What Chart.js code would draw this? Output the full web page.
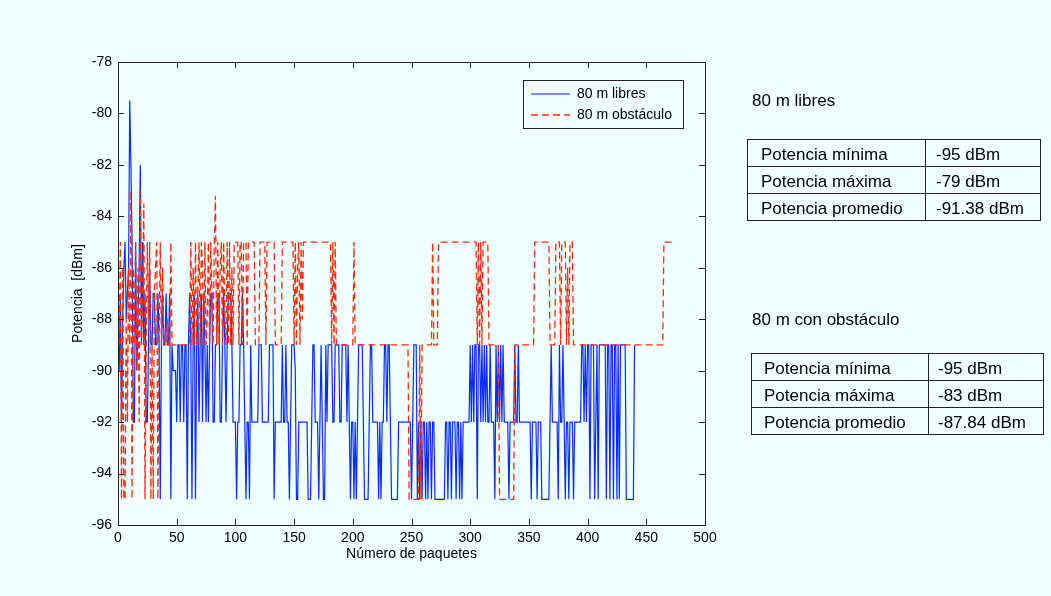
<!DOCTYPE html>
<html>
<head>
<meta charset="utf-8">
<title>Potencia recibida a 80 m</title>
<script src="https://cdn.jsdelivr.net/npm/chart.js@4.4.0/dist/chart.umd.min.js"></script>
<style>
  body { margin: 0; background: #f0ffff; }
  #lienzo { position: absolute; left: 0; top: 0; }
  .rotulo { position: absolute; font: 17px 'Liberation Sans', Arial, sans-serif; color: #000; white-space: nowrap; }
  table.resumen { position: absolute; border-collapse: collapse; font: 17px 'Liberation Sans', Arial, sans-serif; color: #000; }
  table.resumen td { border: 1px solid #222; height: 22px; line-height: 22px; padding: 4px 0 0 0; white-space: nowrap; }
</style>
</head>
<body>
<canvas id="lienzo" width="1051" height="596"></canvas>

<div class="rotulo" style="left:752px; top:91px;">80 m libres</div>
<table class="resumen" style="left:747px; top:139px;">
  <tr><td style="width:164px; padding-left:13px;">Potencia mínima</td><td style="width:104px; padding-left:10px;">-95 dBm</td></tr>
  <tr><td style="padding-left:13px;">Potencia máxima</td><td style="padding-left:10px;">-79 dBm</td></tr>
  <tr><td style="padding-left:13px;">Potencia promedio</td><td style="padding-left:10px;">-91.38 dBm</td></tr>
</table>

<div class="rotulo" style="left:752px; top:310px;">80 m con obstáculo</div>
<table class="resumen" style="left:751px; top:353px;">
  <tr><td style="width:164px; padding-left:12px;">Potencia mínima</td><td style="width:105px; padding-left:9px;">-95 dBm</td></tr>
  <tr><td style="padding-left:12px;">Potencia máxima</td><td style="padding-left:9px;">-83 dBm</td></tr>
  <tr><td style="padding-left:12px;">Potencia promedio</td><td style="padding-left:9px;">-87.84 dBm</td></tr>
</table>

<script>
// potencia por paquete (dBm), medición a 80 m sin obstáculos
const potenciaLibres = [
  -90,-87,-92,-88,-86,-85,-88,-87,-86,-79.5,-82,-85,-92,-92,-85,-90,-88,-86,-82,-89,
  -85,-89,-87,-92,-92,-89,-86,-89,-89,-87,-87,-89,-89,-87,-89,-95,-89,-87,-89,-89,
  -87,-89,-89,-87,-95,-89,-90,-90,-90,-92,-89,-89,-92,-89,-89,-92,-89,-89,-95,-89,
  -87,-89,-95,-89,-87,-95,-89,-87,-92,-89,-87,-92,-87,-89,-92,-89,-92,-89,-87,-87,
  -92,-92,-89,-89,-87,-87,-92,-92,-89,-87,-89,-92,-89,-87,-87,-87,-89,-92,-92,-92,
  -95,-92,-92,-89,-89,-87,-89,-92,-95,-92,-92,-95,-89,-92,-92,-92,-92,-92,-92,-89,
  -89,-89,-92,-92,-92,-92,-92,-92,-89,-89,-89,-89,-95,-92,-92,-92,-92,-92,-92,-89,
  -92,-92,-89,-92,-92,-95,-92,-89,-89,-89,-90,-95,-95,-92,-92,-92,-92,-92,-92,-92,
  -92,-95,-95,-95,-92,-89,-89,-92,-92,-92,-95,-92,-89,-92,-95,-95,-89,-92,-89,-89,
  -89,-89,-92,-92,-89,-89,-89,-89,-92,-92,-89,-89,-89,-89,-92,-89,-92,-95,-92,-92,
  -95,-92,-95,-92,-89,-89,-89,-89,-92,-95,-95,-95,-95,-92,-89,-89,-92,-92,-92,-92,
  -92,-95,-92,-95,-92,-92,-89,-89,-92,-89,-89,-92,-95,-95,-95,-95,-95,-95,-92,-92,
  -92,-92,-92,-92,-92,-92,-92,-92,-92,-95,-92,-89,-89,-89,-95,-92,-95,-92,-95,-92,
  -92,-95,-92,-95,-92,-92,-95,-92,-92,-95,-95,-95,-95,-95,-95,-95,-95,-95,-92,-92,
  -95,-92,-92,-95,-92,-92,-92,-95,-92,-92,-95,-92,-95,-92,-92,-92,-92,-92,-92,-89,
  -92,-89,-92,-89,-89,-95,-89,-89,-92,-89,-92,-89,-92,-89,-92,-92,-89,-92,-92,-92,
  -95,-89,-92,-89,-92,-89,-92,-89,-92,-92,-92,-92,-95,-92,-92,-92,-92,-89,-92,-92,
  -89,-92,-92,-92,-92,-92,-92,-92,-92,-92,-92,-95,-92,-92,-92,-92,-95,-92,-92,-92,
  -95,-95,-95,-95,-95,-95,-95,-92,-89,-92,-92,-92,-92,-92,-95,-89,-92,-92,-89,-92,
  -95,-92,-92,-95,-92,-92,-92,-95,-92,-92,-92,-92,-92,-92,-89,-89,-92,-89,-92,-89,
  -89,-95,-89,-89,-89,-95,-92,-89,-95,-89,-89,-89,-89,-89,-89,-95,-89,-89,-95,-89,
  -89,-95,-89,-89,-95,-89,-95,-89,-89,-89,-89,-89,-95,-95,-95,-95,-95,-95,-95,-89
];

// potencia por paquete (dBm), medición a 80 m con obstáculo
const potenciaObstaculo = [
  -89,-85,-95,-86,-95,-95,-88,-92,-86,-89,-83,-95,-86,-89,-85,-90,-86,-92,-83,-89,
  -87,-83.5,-95,-89,-85,-88,-85,-95,-89,-95,-87,-86,-85,-95,-89,-85,-89,-86,-89,-89,
  -89,-88,-89,-89,-85,-89,-89,-89,-89,-89,-89,-89,-89,-89,-89,-89,-89,-89,-89,-89,
  -89,-85,-89,-86,-89,-85,-89,-87,-85,-89,-85,-86,-89,-85,-89,-88,-85,-89,-85,-87,
  -89,-85,-83.2,-89,-85,-89,-86,-85,-89,-85,-88,-89,-85,-89,-85,-89,-86,-89,-85,-85,
  -85,-85,-89,-85,-85,-89,-85,-85,-85,-89,-85,-85,-85,-85,-85,-85,-89,-89,-89,-89,
  -85,-85,-85,-85,-85,-89,-85,-85,-85,-85,-85,-85,-85,-89,-89,-89,-89,-89,-89,-85,
  -85,-85,-85,-85,-85,-85,-85,-85,-85,-89,-85,-89,-86,-85,-89,-85,-88,-85,-85,-85,
  -85,-85,-85,-85,-85,-85,-85,-85,-85,-85,-85,-85,-85,-85,-85,-85,-85,-85,-85,-85,
  -85,-89,-85,-89,-85,-89,-89,-89,-89,-89,-89,-89,-89,-89,-89,-89,-89,-89,-89,-89,
  -85,-89,-89,-89,-89,-89,-89,-89,-89,-89,-89,-89,-89,-89,-89,-89,-89,-89,-89,-89,
  -89,-89,-89,-89,-89,-89,-89,-89,-89,-89,-89,-89,-89,-89,-89,-89,-89,-89,-89,-89,
  -89,-89,-89,-89,-89,-89,-89,-95,-95,-95,-95,-95,-95,-95,-95,-95,-89,-95,-89,-89,
  -89,-89,-89,-89,-89,-89,-89,-85,-89,-89,-89,-89,-85,-85,-85,-85,-85,-85,-85,-85,
  -85,-85,-85,-85,-85,-85,-85,-85,-85,-85,-85,-85,-85,-85,-85,-85,-85,-85,-85,-85,
  -85,-85,-85,-85,-85,-89,-85,-89,-85,-89,-85,-85,-85,-85,-85,-89,-89,-89,-89,-89,
  -89,-89,-89,-89,-95,-95,-95,-95,-95,-95,-95,-95,-95,-95,-95,-95,-95,-89,-89,-89,
  -89,-89,-89,-89,-89,-89,-89,-89,-89,-89,-89,-89,-89,-89,-85,-85,-85,-85,-85,-85,
  -85,-85,-85,-85,-85,-85,-85,-89,-89,-89,-89,-89,-85,-85,-85,-85,-89,-85,-85,-85,
  -85,-89,-86,-89,-85,-85,-85,-89,-89,-89,-89,-89,-89,-89,-89,-89,-89,-89,-89,-89,
  -89,-89,-89,-89,-89,-89,-89,-89,-89,-89,-89,-89,-89,-89,-89,-89,-89,-89,-89,-89,
  -89,-89,-89,-89,-89,-89,-89,-89,-89,-89,-89,-89,-89,-89,-89,-89,-89,-89,-89,-89,
  -89,-89,-89,-89,-89,-89,-89,-89,-89,-89,-89,-89,-89,-89,-89,-89,-89,-89,-89,-89,
  -89,-89,-89,-89,-85,-85,-85,-85,-85,-85,-85,-85,-85
];

const ticksPaquetes = [0, 50, 100, 150, 200, 250, 300, 350, 400, 450, 500];
const ticksPotencia = [-96, -94, -92, -90, -88, -86, -84, -82, -80, -78];

const fuente = { family: "'Liberation Sans', Arial, sans-serif", size: 14 };
const aPuntos = serie => serie.map((v, i) => ({ x: i + 1, y: v }));

// marco cerrado con marcas hacia dentro en los cuatro lados
const marco = {
  id: 'marco',
  afterDatasetsDraw(chart) {
    const { ctx, chartArea: a, scales: { x, y } } = chart;
    const largo = 6;
    ctx.save();
    ctx.strokeStyle = '#222';
    ctx.lineWidth = 1;
    ctx.beginPath();
    ticksPaquetes.forEach(v => {
      const px = Math.round(x.getPixelForValue(v)) + 0.5;
      ctx.moveTo(px, a.bottom); ctx.lineTo(px, a.bottom - largo);
      ctx.moveTo(px, a.top); ctx.lineTo(px, a.top + largo);
    });
    ticksPotencia.forEach(v => {
      const py = Math.round(y.getPixelForValue(v)) + 0.5;
      ctx.moveTo(a.left, py); ctx.lineTo(a.left + largo, py);
      ctx.moveTo(a.right, py); ctx.lineTo(a.right - largo, py);
    });
    ctx.stroke();
    ctx.strokeRect(Math.round(a.left) + 0.5, Math.round(a.top) + 0.5, Math.round(a.width), Math.round(a.height));
    ctx.restore();
  }
};

// leyenda con recuadro dentro del área de trazado
const leyenda = {
  id: 'leyenda',
  afterDraw(chart) {
    const { ctx, chartArea: a } = chart;
    const x0 = Math.round(a.right) - 182, y0 = Math.round(a.top) + 18, w = 160, h = 48;
    ctx.save();
    ctx.fillStyle = '#f0ffff';
    ctx.fillRect(x0, y0, w, h);
    ctx.strokeStyle = '#222';
    ctx.lineWidth = 1;
    ctx.strokeRect(x0 + 0.5, y0 + 0.5, w, h);
    chart.data.datasets.forEach((ds, i) => {
      const ly = y0 + 14 + i * 21;
      ctx.strokeStyle = ds.borderColor;
      ctx.lineWidth = ds.borderWidth;
      ctx.setLineDash(ds.borderDash || []);
      ctx.beginPath();
      ctx.moveTo(x0 + 8, ly);
      ctx.lineTo(x0 + 47, ly);
      ctx.stroke();
      ctx.setLineDash([]);
      ctx.fillStyle = '#000';
      ctx.font = "14px 'Liberation Sans', Arial, sans-serif";
      ctx.textBaseline = 'middle';
      ctx.fillText(ds.label, x0 + 54, ly);
    });
    ctx.restore();
  }
};

new Chart(document.getElementById('lienzo').getContext('2d'), {
  type: 'line',
  data: {
    datasets: [
      {
        label: '80 m libres',
        data: aPuntos(potenciaLibres),
        borderColor: '#0a2cff',
        borderWidth: 1.2,
        pointRadius: 0,
        order: 1
      },
      {
        label: '80 m obstáculo',
        data: aPuntos(potenciaObstaculo),
        borderColor: '#ff2a0a',
        borderDash: [7, 4],
        borderWidth: 1.3,
        pointRadius: 0,
        order: 0
      }
    ]
  },
  options: {
    responsive: false,
    animation: false,
    devicePixelRatio: 1,
    layout: { padding: { top: 62, right: 346, bottom: 0, left: 0 } },
    plugins: { legend: { display: false }, tooltip: { enabled: false } },
    scales: {
      x: {
        type: 'linear',
        min: 0,
        max: 500,
        afterBuildTicks: s => { s.ticks = ticksPaquetes.map(v => ({ value: v })); },
        afterFit: s => { s.height = 71; s.paddingLeft = 0; s.paddingRight = 0; },
        ticks: { color: '#000', font: fuente, padding: 5, maxRotation: 0, autoSkip: false },
        grid: { display: false, drawTicks: false },
        border: { display: false },
        title: { display: true, text: 'Número de paquetes', color: '#000', font: fuente, padding: { top: 0, bottom: 33 } }
      },
      y: {
        min: -96,
        max: -78,
        afterBuildTicks: s => { s.ticks = ticksPotencia.map(v => ({ value: v })); },
        afterFit: s => { s.width = 118; s.paddingTop = 0; s.paddingBottom = 0; },
        ticks: { color: '#000', font: fuente, padding: 6, autoSkip: false },
        grid: { display: false, drawTicks: false },
        border: { display: false },
        title: { display: true, text: 'Potencia  [dBm]', color: '#000', font: fuente, padding: { top: 70 } }
      }
    }
  },
  plugins: [marco, leyenda]
});
</script>
</body>
</html>
